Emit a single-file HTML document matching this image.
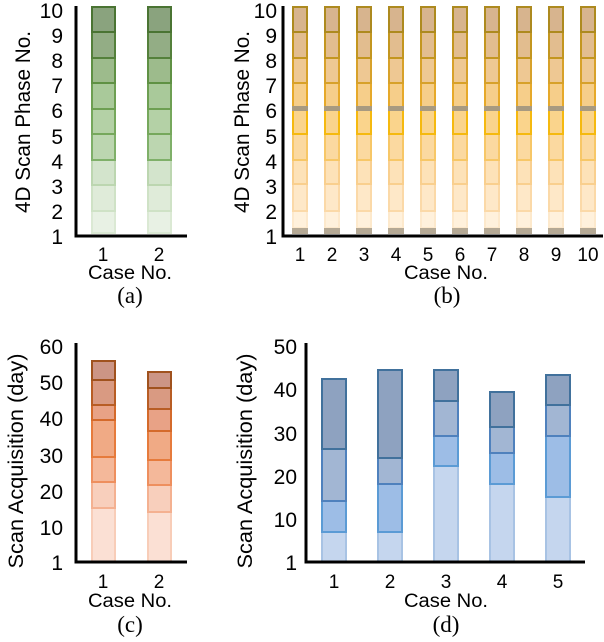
<!DOCTYPE html>
<html><head><meta charset="utf-8"><style>
html,body{margin:0;padding:0;background:#fff}
svg{display:block}
.t{font-family:"Liberation Sans",sans-serif;font-size:21px;fill:#000}
.y{font-family:"Liberation Sans",sans-serif;font-size:21px;fill:#000}
.c{font-family:"Liberation Sans",sans-serif;font-size:19px;fill:#000}
.s{font-family:"Liberation Serif",serif;font-size:23px;fill:#000}
</style></head><body>
<svg width="604" height="642" viewBox="0 0 604 642" xmlns="http://www.w3.org/2000/svg">
<defs>
<g id="ga" stroke-width="2">
<rect x="0" y="211" width="23" height="22" fill="#e8f1e4" stroke="#dbe9d4"/>
<rect x="0" y="185" width="23" height="26" fill="#dfebd9" stroke="#cfe2c6"/>
<rect x="0" y="160" width="23" height="25" fill="#d3e4cc" stroke="#bcd6b0"/>
<rect x="0" y="134" width="23" height="26" fill="#bcd6b0" stroke="#7fb069"/>
<rect x="0" y="109" width="23" height="25" fill="#b4d1a6" stroke="#76a85c"/>
<rect x="0" y="83" width="23" height="26" fill="#a9c99a" stroke="#6d9f52"/>
<rect x="0" y="58" width="23" height="25" fill="#9dbb8c" stroke="#5f9144"/>
<rect x="0" y="32" width="23" height="26" fill="#93ad85" stroke="#54803b"/>
<rect x="0" y="7" width="23" height="25" fill="#8aa37e" stroke="#4a7433"/>
</g>
<g id="gb" stroke-width="2">
<rect x="0" y="211" width="14" height="17" fill="#fff1dc" stroke="#fde9cc"/>
<rect x="0" y="184" width="14" height="27" fill="#fee8c8" stroke="#fbd9a8"/>
<rect x="0" y="160" width="14" height="24" fill="#fde2b8" stroke="#f9cf8e"/>
<rect x="0" y="134" width="14" height="26" fill="#fbd9a0" stroke="#f7c767"/>
<rect x="0" y="109" width="14" height="25" fill="#fad48c" stroke="#f5b90f"/>
<rect x="0" y="83" width="14" height="26" fill="#f6ce8a" stroke="#e6a92a"/>
<rect x="0" y="58" width="14" height="25" fill="#eec893" stroke="#d7a12a"/>
<rect x="0" y="32" width="14" height="26" fill="#e2bd8f" stroke="#c3961f"/>
<rect x="0" y="7" width="14" height="25" fill="#d7b48e" stroke="#ad8a1f"/>
<rect x="-1" y="106" width="16" height="5" fill="#a89a80" stroke="none"/>
<rect x="-1" y="228" width="16" height="6" fill="#b5a995" stroke="none"/>
</g>
</defs>
<!-- Panel a -->
<use href="#ga" x="92"/><use href="#ga" x="148"/>
<path d="M76 6V236H187" fill="none" stroke="#000" stroke-width="3"/>
<g class="t" text-anchor="end">
<text x="63" y="18">10</text><text x="63" y="43">9</text><text x="63" y="68">8</text><text x="63" y="93">7</text><text x="63" y="118">6</text><text x="63" y="144">5</text><text x="63" y="169">4</text><text x="63" y="194">3</text><text x="63" y="219">2</text><text x="63" y="244">1</text>
</g>
<text class="y" transform="translate(30,122) rotate(-90)" text-anchor="middle" textLength="182" lengthAdjust="spacingAndGlyphs">4D Scan Phase No.</text>
<g class="c" text-anchor="middle"><text x="103" y="261">1</text><text x="159" y="261">2</text><text x="130" y="279" textLength="84" lengthAdjust="spacingAndGlyphs">Case No.</text></g>
<text class="s" x="130" y="303" text-anchor="middle">(a)</text>
<!-- Panel b -->
<use href="#gb" x="293"/><use href="#gb" x="325"/><use href="#gb" x="357"/><use href="#gb" x="389"/><use href="#gb" x="421"/><use href="#gb" x="453"/><use href="#gb" x="485"/><use href="#gb" x="517"/><use href="#gb" x="549"/><use href="#gb" x="581"/>
<path d="M283 6V236H603" fill="none" stroke="#000" stroke-width="3"/>
<g class="t" text-anchor="end">
<text x="277" y="18">10</text><text x="277" y="43">9</text><text x="277" y="68">8</text><text x="277" y="93">7</text><text x="277" y="118">6</text><text x="277" y="144">5</text><text x="277" y="169">4</text><text x="277" y="194">3</text><text x="277" y="219">2</text><text x="277" y="244">1</text>
</g>
<text class="y" transform="translate(249,122) rotate(-90)" text-anchor="middle" textLength="182" lengthAdjust="spacingAndGlyphs">4D Scan Phase No.</text>
<g class="c" text-anchor="middle"><text x="300" y="261">1</text><text x="332" y="261">2</text><text x="364" y="261">3</text><text x="396" y="261">4</text><text x="428" y="261">5</text><text x="460" y="261">6</text><text x="492" y="261">7</text><text x="524" y="261">8</text><text x="556" y="261">9</text><text x="588" y="261">10</text><text x="446" y="279" textLength="84" lengthAdjust="spacingAndGlyphs">Case No.</text></g>
<text class="s" x="447" y="303" text-anchor="middle">(b)</text>
<!-- Panel c -->
<g stroke-width="2">
<rect x="92" y="508" width="23" height="54" fill="#fbe0d4" stroke="#f8cdb8"/>
<rect x="92" y="482" width="23" height="26" fill="#f8cfbc" stroke="#f4b191"/>
<rect x="92" y="457" width="23" height="25" fill="#f4b89a" stroke="#ee8f5e"/>
<rect x="92" y="420" width="23" height="37" fill="#f0aa85" stroke="#e67b3c"/>
<rect x="92" y="405" width="23" height="15" fill="#e8a286" stroke="#d46a2b"/>
<rect x="92" y="380" width="23" height="25" fill="#d99a82" stroke="#b85d24"/>
<rect x="92" y="361" width="23" height="19" fill="#cc9585" stroke="#a0521e"/>
<rect x="148" y="512" width="23" height="50" fill="#fbe0d4" stroke="#f8cdb8"/>
<rect x="148" y="485" width="23" height="27" fill="#f8cfbc" stroke="#f4b191"/>
<rect x="148" y="460" width="23" height="25" fill="#f4b89a" stroke="#ee8f5e"/>
<rect x="148" y="431" width="23" height="29" fill="#f0aa85" stroke="#e67b3c"/>
<rect x="148" y="409" width="23" height="22" fill="#e8a286" stroke="#d46a2b"/>
<rect x="148" y="388" width="23" height="21" fill="#d99a82" stroke="#b85d24"/>
<rect x="148" y="372" width="23" height="16" fill="#cc9585" stroke="#a0521e"/>
</g>
<path d="M76 343V562H187" fill="none" stroke="#000" stroke-width="3"/>
<g class="t" text-anchor="end">
<text x="63" y="354">60</text><text x="63" y="390">50</text><text x="63" y="426">40</text><text x="63" y="463">30</text><text x="63" y="499">20</text><text x="63" y="535">10</text><text x="63" y="570">1</text>
</g>
<text class="y" transform="translate(23,461) rotate(-90)" text-anchor="middle" textLength="215" lengthAdjust="spacingAndGlyphs">Scan Acquisition (day)</text>
<g class="c" text-anchor="middle"><text x="103" y="588">1</text><text x="159" y="588">2</text><text x="130" y="607" textLength="84" lengthAdjust="spacingAndGlyphs">Case No.</text></g>
<text class="s" x="130" y="632" text-anchor="middle">(c)</text>
<!-- Panel d -->
<g stroke-width="2">
<rect x="322" y="532" width="24" height="30" fill="#c5d6ee" stroke="#a8c3e4"/>
<rect x="322" y="501" width="24" height="31" fill="#9dbde6" stroke="#5b9bd5"/>
<rect x="322" y="449" width="24" height="52" fill="#a2b6d3" stroke="#4f81bd"/>
<rect x="322" y="379" width="24" height="70" fill="#8ea2c0" stroke="#41719c"/>
<rect x="378" y="532" width="24" height="30" fill="#c5d6ee" stroke="#a8c3e4"/>
<rect x="378" y="484" width="24" height="48" fill="#9dbde6" stroke="#5b9bd5"/>
<rect x="378" y="458" width="24" height="26" fill="#a2b6d3" stroke="#4f81bd"/>
<rect x="378" y="370" width="24" height="88" fill="#8ea2c0" stroke="#41719c"/>
<rect x="434" y="466" width="24" height="96" fill="#c5d6ee" stroke="#a8c3e4"/>
<rect x="434" y="436" width="24" height="30" fill="#9dbde6" stroke="#5b9bd5"/>
<rect x="434" y="401" width="24" height="35" fill="#a2b6d3" stroke="#4f81bd"/>
<rect x="434" y="370" width="24" height="31" fill="#8ea2c0" stroke="#41719c"/>
<rect x="490" y="484" width="24" height="78" fill="#c5d6ee" stroke="#a8c3e4"/>
<rect x="490" y="453" width="24" height="31" fill="#9dbde6" stroke="#5b9bd5"/>
<rect x="490" y="427" width="24" height="26" fill="#a2b6d3" stroke="#4f81bd"/>
<rect x="490" y="392" width="24" height="35" fill="#8ea2c0" stroke="#41719c"/>
<rect x="546" y="497" width="24" height="65" fill="#c5d6ee" stroke="#a8c3e4"/>
<rect x="546" y="436" width="24" height="61" fill="#9dbde6" stroke="#5b9bd5"/>
<rect x="546" y="405" width="24" height="31" fill="#a2b6d3" stroke="#4f81bd"/>
<rect x="546" y="375" width="24" height="30" fill="#8ea2c0" stroke="#41719c"/>
</g>
<path d="M306 343V562H585" fill="none" stroke="#000" stroke-width="3"/>
<g class="t" text-anchor="end">
<text x="297" y="354">50</text><text x="297" y="397">40</text><text x="297" y="441">30</text><text x="297" y="484">20</text><text x="297" y="527">10</text><text x="297" y="570">1</text>
</g>
<text class="y" transform="translate(252,461) rotate(-90)" text-anchor="middle" textLength="215" lengthAdjust="spacingAndGlyphs">Scan Acquisition (day)</text>
<g class="c" text-anchor="middle"><text x="334" y="588">1</text><text x="390" y="588">2</text><text x="446" y="588">3</text><text x="502" y="588">4</text><text x="558" y="588">5</text><text x="446" y="607" textLength="84" lengthAdjust="spacingAndGlyphs">Case No.</text></g>
<text class="s" x="446" y="632" text-anchor="middle">(d)</text>
</svg>
</body></html>
